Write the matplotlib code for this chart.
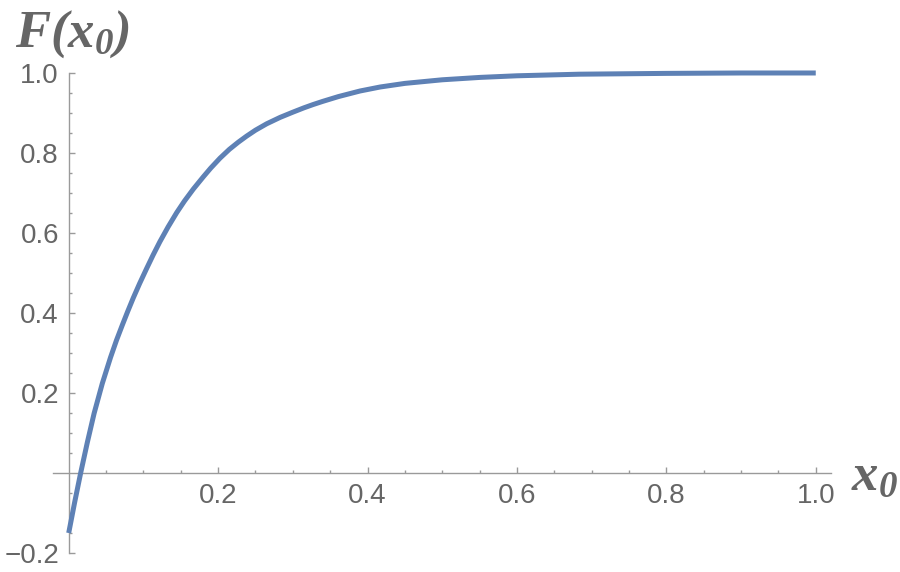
import numpy as np
import matplotlib
matplotlib.use("Agg")
import matplotlib.pyplot as plt
from matplotlib.ticker import FixedLocator

# values
x0 = [0.0, 0.008, 0.016, 0.025, 0.034, 0.045, 0.056, 0.064, 0.0718, 0.079,
      0.0865, 0.095, 0.104, 0.113, 0.122, 0.133, 0.1446, 0.155, 0.1669, 0.180,
      0.190, 0.2025, 0.215, 0.227, 0.238, 0.250, 0.265, 0.283, 0.300, 0.315,
      0.327, 0.340, 0.361, 0.390, 0.417, 0.450, 0.500, 0.551, 0.600, 0.684,
      0.800, 0.900, 1.0]
F = [-0.150, -0.073, 0.0, 0.077, 0.149, 0.224, 0.289, 0.332, 0.370, 0.404,
     0.438, 0.474, 0.510, 0.545, 0.578, 0.615, 0.651, 0.680, 0.710, 0.740,
     0.762, 0.787, 0.809, 0.827, 0.842, 0.857, 0.873, 0.889, 0.902, 0.913,
     0.921, 0.929, 0.941, 0.955, 0.965, 0.974, 0.983, 0.989, 0.993, 0.997,
     0.999, 1.0, 1.0]

xmajor = [0.2, 0.4, 0.6, 0.8, 1.0]
ymajor = [-0.2, 0.2, 0.4, 0.6, 0.8, 1.0]

plt.rcParams['font.family'] = ['Liberation Sans', 'DejaVu Sans']
plt.rcParams['mathtext.fontset'] = 'custom'
plt.rcParams['mathtext.rm'] = 'Liberation Serif:bold:italic'
plt.rcParams['mathtext.it'] = 'Liberation Serif:bold:italic'
plt.rcParams['mathtext.bf'] = 'Liberation Serif:bold:italic'

axis_col = '#9a9a9a'
text_col = '#666666'

fig = plt.figure(figsize=(9, 5.72), dpi=100)
ax = fig.add_axes([0.0589, 0.0332, 0.8641, 0.8392])

ax.plot(x0, F, color='#5e81b5', lw=3.6, solid_capstyle='butt', solid_joinstyle='round',
        clip_on=False, zorder=3)

ax.set_xlim(-0.021, 1.02)
ax.set_ylim(-0.2, 1.0)

for s in ('top', 'right'):
  ax.spines[s].set_visible(False)
ax.spines['left'].set_position(('data', 0))
ax.spines['bottom'].set_position(('data', 0))
for s in ('left', 'bottom'):
  ax.spines[s].set_color(axis_col)
  ax.spines[s].set_linewidth(1.0)

ax.xaxis.set_major_locator(FixedLocator(xmajor))
ax.yaxis.set_major_locator(FixedLocator(ymajor))
xminor = [v for v in np.arange(0.05, 1.0, 0.05) if min(abs(v - m) for m in xmajor) > 1e-6]
yminor = [v for v in np.arange(-0.15, 1.0, 0.05) if abs(v) > 1e-6 and min(abs(v - m) for m in ymajor) > 1e-6]
ax.xaxis.set_minor_locator(FixedLocator(xminor))
ax.yaxis.set_minor_locator(FixedLocator(yminor))
ax.set_xticklabels([f"{v:.1f}" for v in xmajor])
ax.set_yticklabels([f"{v:.1f}".replace('-', '\u2212') for v in ymajor])

ax.tick_params(which='both', direction='in', color=axis_col, width=1.0,
               labelsize=20, labelcolor=text_col)
ax.tick_params(which='major', length=4.5)
ax.tick_params(which='minor', length=2.5)
ax.tick_params(axis='x', which='major', pad=7)
ax.tick_params(axis='y', which='major', pad=7)

# axis labels, Mathematica style
fig.text(15 / 900, 1 - 47 / 572, r'$F(x_0)$', fontsize=38, color=text_col,
         ha='left', va='baseline')
fig.text(851 / 900, 1 - 490 / 572, r'$x_0$', fontsize=38, color=text_col,
         ha='left', va='baseline')

fig.savefig('out.png', dpi=100)
